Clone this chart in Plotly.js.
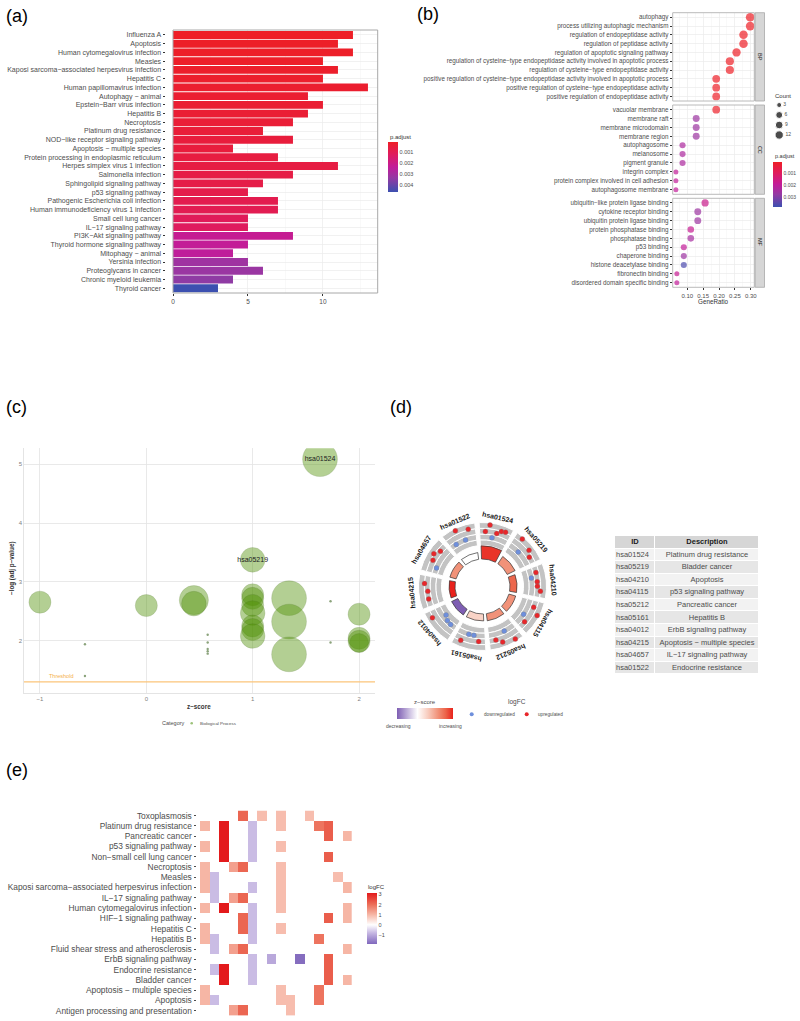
<!DOCTYPE html>
<html><head><meta charset="utf-8">
<script src="https://cdn.plot.ly/plotly-3.0.1.min.js"></script>
<style>html,body{margin:0;padding:0;background:#fff}#chart{width:800px;height:1021px}</style>
</head><body><div id="chart"></div>
<script>
const W = 800, H = 1021;
const FONT = 'Liberation Sans, Arial, Helvetica, sans-serif';

// ---------------- (a) KEGG enrichment bar chart ----------------
const keggTerms = ['Influenza A','Apoptosis','Human cytomegalovirus infection','Measles',
 'Kaposi sarcoma\u2212associated herpesvirus infection','Hepatitis C','Human papillomavirus infection',
 'Autophagy \u2212 animal','Epstein\u2212Barr virus infection','Hepatitis B','Necroptosis',
 'Platinum drug resistance','NOD\u2212like receptor signaling pathway','Apoptosis \u2212 multiple species',
 'Protein processing in endoplasmic reticulum','Herpes simplex virus 1 infection','Salmonella infection',
 'Sphingolipid signaling pathway','p53 signaling pathway','Pathogenic Escherichia coli infection',
 'Human immunodeficiency virus 1 infection','Small cell lung cancer','IL\u221217 signaling pathway',
 'PI3K\u2212Akt signaling pathway','Thyroid hormone signaling pathway','Mitophagy \u2212 animal',
 'Yersinia infection','Proteoglycans in cancer','Chronic myeloid leukemia','Thyroid cancer'];
const keggCounts = [12,11,12,10,11,10,13,9,10,9,8,6,8,4,7,11,8,6,5,7,7,5,5,8,5,4,5,6,4,3];
const keggPadj = [0.00008,0.0001,0.00012,0.00015,0.00018,0.0002,0.00025,0.0003,0.00033,0.00036,
 0.0004,0.00045,0.0005,0.00052,0.0006,0.00065,0.0007,0.00075,0.0008,0.0009,0.00095,0.0011,0.0012,
 0.0022,0.0023,0.0024,0.0031,0.0032,0.0034,0.0046];

// ---------------- (b) GO dot plot ----------------
const bpTerms = ['autophagy','process utilizing autophagic mechanism','regulation of endopeptidase activity',
 'regulation of peptidase activity','regulation of apoptotic signaling pathway',
 'regulation of cysteine\u2212type endopeptidase activity involved in apoptotic process',
 'regulation of cysteine\u2212type endopeptidase activity',
 'positive regulation of cysteine\u2212type endopeptidase activity involved in apoptotic process',
 'positive regulation of cysteine\u2212type endopeptidase activity','positive regulation of endopeptidase activity'];
const bpRatio = [0.298,0.298,0.277,0.277,0.255,0.234,0.234,0.191,0.191,0.191];
const bpCount = [14,14,13,13,12,11,11,9,9,9];
const bpPadj = [0.00004,0.00004,0.00004,0.00004,0.00005,0.00005,0.00005,0.00006,0.00006,0.00006];

const ccTerms = ['vacuolar membrane','membrane raft','membrane microdomain','membrane region','autophagosome',
 'melanosome','pigment granule','integrin complex','protein complex involved in cell adhesion','autophagosome membrane'];
const ccRatio = [0.191,0.128,0.128,0.128,0.085,0.085,0.085,0.064,0.064,0.064];
const ccCount = [9,6,6,6,4,4,4,3,3,3];
const ccPadj = [0.0001,0.0026,0.0026,0.0026,0.0023,0.0023,0.0023,0.0019,0.0019,0.0019];

const mfTerms = ['ubiquitin\u2212like protein ligase binding','cytokine receptor binding','ubiquitin protein ligase binding',
 'protein phosphatase binding','phosphatase binding','p53 binding','chaperone binding','histone deacetylase binding',
 'fibronectin binding','disordered domain specific binding'];
const mfRatio = [0.156,0.133,0.133,0.111,0.111,0.089,0.089,0.089,0.067,0.067];
const mfCount = [7,6,6,5,5,4,4,4,3,3];
const mfPadj = [0.0017,0.0026,0.0026,0.0018,0.0024,0.0019,0.0026,0.0036,0.0018,0.0019];
const countLegend = [3,6,9,12];

// ---------------- (c) GO bubble plot ----------------
const bubbleZ = [1.633,1.0,-1,0,0.447,0.447,1,1,1,1,1,1,1,1.342,1.342,1.342,2,2,2,2];
const bubbleLogP = [5.085,3.374,2.655,2.597,2.69,2.63,2.78,2.72,2.60,2.47,2.25,2.19,2.08,2.723,2.325,1.768,2.45,2.04,1.99,1.96];
const bubbleCount = [10,5,4,4,7,5,4,4,4,5,4,4,5,10,10,10,4,4,4,3];
const bubbleLabel = ['hsa01524','hsa05219','','','','','','','','','','','','','','','','','',''];
const smallZ = [-0.577,-0.577,0.577,0.577,0.577,0.577,0.577,1.732,1.732];
const smallLogP = [1.94,1.40,2.10,1.97,1.86,1.82,1.78,2.67,1.97];
const thresholdLogP = 1.301;

// ---------------- (d) GO circle + table ----------------
const circleIds = ['hsa01524','hsa05219','hsa04210','hsa04115','hsa05212','hsa05161','hsa04012','hsa04215','hsa04657','hsa01522'];
const circleDesc = ['Platinum drug resistance','Bladder cancer','Apoptosis','p53 signaling pathway','Pancreatic cancer',
 'Hepatitis B','ErbB signaling pathway','Apoptosis \u2212 multiple species','IL\u221217 signaling pathway','Endocrine resistance'];
const circleZ = [1.633,1.0,1.342,1.0,1.0,0.447,-1.0,1.732,1.0,0.0];
const circleLogP = [5.08,3.37,2.72,2.7,2.75,2.66,2.65,2.3,2.47,2.6];
const tableHeader = ['ID','Description'];

// ---------------- (e) GO heatmap ----------------
const heatTerms = ['Toxoplasmosis','Platinum drug resistance','Pancreatic cancer','p53 signaling pathway',
 'Non\u2212small cell lung cancer','Necroptosis','Measles','Kaposi sarcoma\u2212associated herpesvirus infection',
 'IL\u221217 signaling pathway','Human cytomegalovirus infection','HIF\u22121 signaling pathway','Hepatitis C','Hepatitis B',
 'Fluid shear stress and atherosclerosis','ErbB signaling pathway','Endocrine resistance','Bladder cancer',
 'Apoptosis \u2212 multiple species','Apoptosis','Antigen processing and presentation'];
const geneLogFC = [1.0,-0.75,3.1,1.3,2.1,-0.75,0.9,-1.0,0.9,0.9,-1.8,0.9,1.9,2.2,0.9,1.0];
const heatMembers = [[4,6,8,11],[0,2,5,8,12,13],[2,5,13,15],[0,2,5,8],[2,5,13],[0,3,4,8],[0,1,8,14],[0,1,5,8,15],
 [1,3,4,8],[0,2,5,8,15],[4,5,13,15],[0,4,5,8],[0,1,5,12],[1,3,4,15],[5,7,10,13],[1,2,5,13],[2,5,13,15],
 [0,8,12],[0,1,8,9,12],[3,4,9]];

// ================= helpers =================
const fx = x => x / W, fy = y => 1 - y / H;
function ann(text, x, y, size, color, extra) {
  return Object.assign({xref:'paper', yref:'paper', x:fx(x), y:fy(y), text:text, showarrow:false,
    xanchor:'center', yanchor:'middle', font:{family:FONT, size:size, color:color}}, extra || {});
}
const padjScale = [[0,'#3C50B0'],[0.28,'#943AA3'],[0.5,'#C21C99'],[0.75,'#DF1B5E'],[1,'#EE1F26']];
const neg = a => a.map(v => -v);
const sizeB = c => 5 + 3.7 * Math.sqrt((c - 3) / 11);
const sizeC = c => 11 * Math.sqrt(c);

const traces = [];
const shapes = [];
const annotations = [];

// ----- (a) -----
traces.push({type:'bar', orientation:'h', x:keggCounts, y:keggTerms, width:0.9, xaxis:'x', yaxis:'y',
  marker:{color:neg(keggPadj), colorscale:padjScale, cmin:-0.0046, cmax:-0.00006, line:{width:0},
    colorbar:{x:fx(387.7), xanchor:'left', y:fy(142), yanchor:'top', len:49.7, lenmode:'pixels',
      thickness:9.6, thicknessmode:'pixels', outlinewidth:0, xpad:0, ypad:0, tickmode:'array',
      tickvals:[-0.001,-0.002,-0.003,-0.004], ticktext:['0.001','0.002','0.003','0.004'], ticks:'',
      tickfont:{family:FONT,size:5.5,color:'#4D4D4D'}}},
  showlegend:false, hoverinfo:'skip'});
shapes.push({type:'rect', xref:'x domain', yref:'y domain', x0:0, x1:1, y0:0, y1:1, line:{color:'#A8A8A8', width:1}, layer:'above'});
annotations.push(ann('p.adjust', 387.7, 136.5, 6, '#333', {xanchor:'left'}));

// ----- (b) -----
const bSets = [[bpTerms,bpRatio,bpCount,bpPadj,'y2'],[ccTerms,ccRatio,ccCount,ccPadj,'y3'],[mfTerms,mfRatio,mfCount,mfPadj,'y4']];
bSets.forEach((s, i) => {
  traces.push({type:'scatter', mode:'markers', x:s[1], y:s[0], xaxis:'x2', yaxis:s[4],
    marker:{size:s[2].map(sizeB), color:neg(s[3]), colorscale:padjScale, cmin:-0.0038, cmax:-0.00003,
      line:{width:0}, showscale:i===0,
      colorbar:{x:fx(772.7), xanchor:'left', y:fy(161.7), yanchor:'top', len:45, lenmode:'pixels',
        thickness:9, thicknessmode:'pixels', outlinewidth:0, xpad:0, ypad:0, tickmode:'array',
        tickvals:[-0.001,-0.002,-0.003], ticktext:['0.001','0.002','0.003'], ticks:'',
        tickfont:{family:FONT,size:5,color:'#4D4D4D'}}},
    showlegend:false, hoverinfo:'skip'});
  const yd = s[4] + ' domain';
  shapes.push({type:'rect', xref:'x2 domain', yref:yd, x0:0, x1:1, y0:0, y1:1, line:{color:'#A8A8A8', width:0.8}, layer:'above'});
  shapes.push({type:'rect', xref:'paper', yref:yd, x0:fx(755.2), x1:fx(764.5), y0:0, y1:1, fillcolor:'#D6D6D6', line:{color:'#A8A8A8', width:0.8}});
});
annotations.push(ann('BP', 759.8, 56.9, 5.5, '#1A1A1A', {textangle:90}));
annotations.push(ann('CC', 759.8, 149.7, 5.5, '#1A1A1A', {textangle:90}));
annotations.push(ann('MF', 759.8, 242.8, 5.5, '#1A1A1A', {textangle:90}));
annotations.push(ann('GeneRatio', 713.3, 301.5, 6.3, '#333'));
annotations.push(ann('Count', 772.5, 96, 6, '#333', {xanchor:'left'}));
annotations.push(ann('p.adjust', 772.5, 155.5, 5.5, '#333', {xanchor:'left'}));
traces.push({type:'scatter', mode:'markers+text', x:countLegend.map(() => 0.2), y:countLegend, xaxis:'x7', yaxis:'y7',
  text:countLegend.map(String), textposition:'middle right', textfont:{family:FONT,size:5,color:'#4D4D4D'},
  marker:{size:countLegend.map(sizeB), color:'#000'}, showlegend:false, hoverinfo:'skip', cliponaxis:false});

// ----- (c) -----
traces.push({type:'scatter', mode:'markers', x:smallZ, y:smallLogP, xaxis:'x5', yaxis:'y5',
  marker:{size:2.4, color:'rgba(110,140,90,0.8)'}, showlegend:false, hoverinfo:'skip'});
traces.push({type:'scatter', mode:'markers+text', x:bubbleZ, y:bubbleLogP, xaxis:'x5', yaxis:'y5',
  text:bubbleLabel, textposition:'middle center', textfont:{family:FONT,size:7,color:'#222'},
  marker:{size:bubbleCount.map(sizeC), color:'rgba(77,143,0,0.6)', line:{color:'rgba(70,110,30,0.45)', width:0.6}},
  showlegend:false, hoverinfo:'skip'});
shapes.push({type:'line', xref:'x5 domain', x0:0, x1:1, yref:'y5', y0:thresholdLogP, y1:thresholdLogP, line:{color:'#FBC57A', width:1.2}});
annotations.push({xref:'x5', yref:'y5', x:-0.8, y:1.397, text:'Threshold', showarrow:false, font:{family:FONT,size:5.5,color:'#F5B04A'}});
annotations.push(ann('<b>\u2212log (adj p\u2212value)</b>', 12, 568, 6.3, '#333', {textangle:-90}));
annotations.push(ann('<b>z\u2212score</b>', 199.3, 706.5, 6.3, '#333'));
annotations.push(ann('Category', 173, 723.3, 5.5, '#4D4D4D'));
annotations.push(ann('Biological Process', 218.3, 723.3, 4.4, '#4D4D4D'));
shapes.push({type:'circle', xref:'paper', yref:'paper', xsizemode:'pixel', ysizemode:'pixel', xanchor:fx(191.7), yanchor:fy(723.3),
  x0:-1.3, x1:1.3, y0:-1.3, y1:1.3, fillcolor:'#9DC27A', line:{width:0}});

// ----- (d) circle -----
const cx = 482.5, cy = 586.5, R = 80;
const RING_BASE = 27.5, RING_SCALE = 2.6, SECT_IN = 41, SECT_OUT = 64;
const thetaC = circleIds.map((_, i) => 77 - 36 * i);
const stripes = 4, sw = (SECT_OUT - SECT_IN) / stripes;
const gTheta = [], gBase = [], gR = [];
thetaC.forEach(t => { for (let s = 0; s < stripes; s++) { gTheta.push(t); gBase.push(SECT_IN + s * sw); gR.push(sw); } });
traces.push({type:'barpolar', theta:gTheta, base:gBase, r:gR, width:32, subplot:'polar',
  marker:{color:'#C3C3C3', line:{color:'#FFFFFF', width:1}}, showlegend:false, hoverinfo:'skip'});
const zScale = [[0,'#7E5EB3'],[0.366,'#FFFFFF'],[0.55,'#F8CDBF'],[0.732,'#F19279'],[0.87,'#EC6349'],[1,'#E8221C']];
traces.push({type:'barpolar', theta:thetaC, base:RING_BASE, r:circleLogP.map(v => v * RING_SCALE), width:30, subplot:'polar',
  marker:{color:circleZ, colorscale:zScale, cmin:-1, cmax:1.732, line:{color:'#333', width:0.7},
    showscale:true, colorbar:{orientation:'h', x:fx(396.7), xanchor:'left', y:fy(708.3), yanchor:'top',
      len:56, lenmode:'pixels', thickness:11, thicknessmode:'pixels', outlinewidth:0, xpad:0, ypad:0,
      showticklabels:false, ticks:''}},
  showlegend:false, hoverinfo:'skip'});
const upT = [], upR = [], dnT = [], dnR = [];
circleDesc.forEach((d, k) => {
  const genes = heatMembers[heatTerms.indexOf(d)];
  const n = genes.length;
  genes.forEach((g, j) => {
    const th = thetaC[k] + 12 - (j + 0.5) * 24 / n;
    const r = 52 + 3.2 * geneLogFC[g];
    if (geneLogFC[g] > 0) { upT.push(th); upR.push(r); } else { dnT.push(th); dnR.push(r); }
  });
});
traces.push({type:'scatterpolar', mode:'markers', theta:upT, r:upR, subplot:'polar',
  marker:{size:5, color:'#E8262A', line:{color:'rgba(120,120,120,0.6)', width:0.5}}, showlegend:false, hoverinfo:'skip'});
traces.push({type:'scatterpolar', mode:'markers', theta:dnT, r:dnR, subplot:'polar',
  marker:{size:5, color:'#6E8FDC', line:{color:'rgba(120,120,120,0.6)', width:0.5}}, showlegend:false, hoverinfo:'skip'});
circleIds.forEach((id, k) => {
  const a = thetaC[k] * Math.PI / 180;
  let ta = 90 - thetaC[k]; while (ta > 180) ta -= 360; while (ta <= -180) ta += 360;
  annotations.push(ann('<b>' + id + '</b>', cx + 71 * Math.cos(a), cy - 71 * Math.sin(a), 7, '#1A1A1A', {textangle:ta}));
});
annotations.push(ann('z\u2212score', 425, 701.7, 6, '#4D4D4D'));
annotations.push(ann('decreasing', 398.3, 725.7, 5, '#4D4D4D'));
annotations.push(ann('increasing', 450.7, 725.7, 5, '#4D4D4D'));
annotations.push(ann('logFC', 516.7, 701.7, 6.5, '#4D4D4D'));
annotations.push(ann('downregulated', 499, 714.3, 4.7, '#4D4D4D'));
annotations.push(ann('upregulated', 550.7, 714.3, 4.7, '#4D4D4D'));
[[471.7,'#6E8FDC'],[526.7,'#E8262A']].forEach(p => shapes.push({type:'circle', xref:'paper', yref:'paper',
  xsizemode:'pixel', ysizemode:'pixel', xanchor:fx(p[0]), yanchor:fy(714.3), x0:-2, x1:2, y0:-2, y1:2,
  fillcolor:p[1], line:{width:0}}));

// ----- (d) table (cell backgrounds as a heatmap, text as text traces) -----
const tableRows = ['header'].concat(circleIds);
traces.push({type:'heatmap', x:[0,40,144], y:tableRows, xaxis:'x8', yaxis:'y8',
  z:tableRows.map((r, i) => i === 0 ? [2,2] : [(i - 1) % 2, (i - 1) % 2]),
  colorscale:[[0,'#F2F2F2'],[0.5,'#E6E6E6'],[1,'#D6D6D6']], zmin:0, zmax:2, showscale:false,
  xgap:1, ygap:1, hoverinfo:'skip'});
traces.push({type:'scatter', mode:'text', x:[20,92], y:['header','header'], xaxis:'x8', yaxis:'y8',
  text:tableHeader.map(t => '<b>' + t + '</b>'), textposition:'middle center',
  textfont:{family:FONT,size:7.5,color:'#1A1A1A'}, cliponaxis:false, showlegend:false, hoverinfo:'skip'});
traces.push({type:'scatter', mode:'text', x:circleIds.map(() => 1), y:circleIds, xaxis:'x8', yaxis:'y8',
  text:circleIds, textposition:'middle right', textfont:{family:FONT,size:7.5,color:'#4D4D4D'},
  cliponaxis:false, showlegend:false, hoverinfo:'skip'});
traces.push({type:'scatter', mode:'text', x:circleIds.map(() => 92), y:circleIds, xaxis:'x8', yaxis:'y8',
  text:circleDesc, textposition:'middle center', textfont:{family:FONT,size:7.5,color:'#4D4D4D'},
  cliponaxis:false, showlegend:false, hoverinfo:'skip'});

// ----- (e) heatmap -----
const heatZ = heatMembers.map(m => geneLogFC.map((v, g) => m.indexOf(g) >= 0 ? v : null));
const fcScale = [[0,'#8068BD'],[0.215,'#C6B7E2'],[0.376,'#FFFFFF'],[0.578,'#F6B6A5'],[0.779,'#EC6D57'],[1,'#E31A1C']];
traces.push({type:'heatmap', z:heatZ, x:geneLogFC.map((_, i) => i), y:heatTerms, xaxis:'x6', yaxis:'y6',
  colorscale:fcScale, zmin:-1.87, zmax:3.1, hoverinfo:'skip',
  colorbar:{x:fx(366.7), xanchor:'left', y:fy(893.3), yanchor:'top', len:50.7, lenmode:'pixels',
    thickness:10, thicknessmode:'pixels', outlinewidth:0, xpad:0, ypad:0, tickvals:[-1,0,1,2,3],
    ticktext:['\u22121','0','1','2','3'], ticks:'', tickfont:{family:FONT,size:5.5,color:'#4D4D4D'}}});
annotations.push(ann('logFC', 366, 886.7, 6, '#333', {xanchor:'left'}));

// ----- panel letters -----
[['(a)',4,16],['(b)',415,14],['(c)',4,407],['(d)',388,407],['(e)',4,770]].forEach(p =>
  annotations.push(ann(p[0], p[1], p[2], 18, '#000', {xanchor:'left'})));

const grid = '#EBEBEB';
const layout = {
  width:W, height:H, margin:{l:0,r:0,t:0,b:0}, paper_bgcolor:'#FFFFFF', plot_bgcolor:'rgba(0,0,0,0)',
  font:{family:FONT, color:'#4D4D4D'}, showlegend:false,
  xaxis:{domain:[fx(173), fx(377.7)], anchor:'y', range:[0,13.65], tickmode:'array', tickvals:[0,5,10],
    ticks:'outside', ticklen:2, tickcolor:'#333', tickfont:{size:6.5,color:'#4D4D4D'},
    showgrid:true, gridcolor:grid, gridwidth:0.7, minor:{tickmode:'array', tickvals:[2.5,7.5,12.5], showgrid:true, gridcolor:'#F4F4F4', gridwidth:0.5},
    zeroline:false, showline:false, fixedrange:true},
  yaxis:{domain:[fy(293), fy(30)], anchor:'free', position:fx(164.5), type:'category', categoryorder:'array',
    categoryarray:keggTerms, range:[29.55,-0.57], ticks:'outside', ticklen:2, tickcolor:'#333',
    tickfont:{size:7,color:'#4D4D4D'}, showgrid:true, gridcolor:grid, gridwidth:0.7, zeroline:false, showline:false},
  xaxis2:{domain:[fx(672.7), fx(754.3)], anchor:'y4', range:[0.054,0.311], tickmode:'array',
    tickvals:[0.10,0.15,0.20,0.25,0.30], ticktext:['0.10','0.15','0.20','0.25','0.30'], ticks:'outside', ticklen:2,
    tickcolor:'#333', tickfont:{size:6,color:'#4D4D4D'}, showgrid:true, gridcolor:grid, gridwidth:0.7,
    minor:{tickmode:'array', tickvals:[0.075,0.125,0.175,0.225,0.275], showgrid:true, gridcolor:'#F4F4F4', gridwidth:0.5},
    zeroline:false, showline:false},
  yaxis2:{domain:[fy(101), fy(12.7)], anchor:'x2', type:'category', categoryorder:'array', categoryarray:bpTerms,
    range:[9.52,-0.52], ticks:'outside', ticklen:2, tickcolor:'#333', tickfont:{size:6.3,color:'#4D4D4D'},
    showgrid:true, gridcolor:grid, gridwidth:0.7, zeroline:false},
  yaxis3:{domain:[fy(194.3), fy(105)], anchor:'x2', type:'category', categoryorder:'array', categoryarray:ccTerms,
    range:[9.52,-0.52], ticks:'outside', ticklen:2, tickcolor:'#333', tickfont:{size:6.3,color:'#4D4D4D'},
    showgrid:true, gridcolor:grid, gridwidth:0.7, zeroline:false},
  yaxis4:{domain:[fy(287.3), fy(198.3)], anchor:'x2', type:'category', categoryorder:'array', categoryarray:mfTerms,
    range:[9.52,-0.52], ticks:'outside', ticklen:2, tickcolor:'#333', tickfont:{size:6.3,color:'#4D4D4D'},
    showgrid:true, gridcolor:grid, gridwidth:0.7, zeroline:false},
  xaxis5:{domain:[fx(24), fx(375)], anchor:'y5', range:[-1.15,2.15], tickmode:'array', tickvals:[-1,0,1,2],
    ticktext:['\u22121','0','1','2'], ticks:'', tickfont:{size:6,color:'#7F7F7F'}, showgrid:true, gridcolor:'#E3E3E3',
    gridwidth:0.8, zeroline:false, showline:true, linecolor:'#DDDDDD', linewidth:0.8},
  yaxis5:{domain:[fy(692.7), fy(448.3)], anchor:'x5', range:[1.116,5.27], tickmode:'array', tickvals:[2,3,4,5],
    ticks:'', tickfont:{size:6,color:'#7F7F7F'}, showgrid:true, gridcolor:'#E3E3E3', gridwidth:0.8,
    zeroline:false, showline:true, linecolor:'#DDDDDD', linewidth:0.8},
  xaxis6:{domain:[fx(200), fx(351.7)], anchor:'y6', range:[-0.5,15.5], visible:false},
  yaxis6:{domain:[fy(1015.8), fy(810.5)], anchor:'free', position:fx(195.5), type:'category', categoryorder:'array',
    categoryarray:heatTerms, range:[19.5,-0.5], ticks:'outside', ticklen:2, tickcolor:'#4D4D4D',
    tickfont:{size:8.4,color:'#4D4D4D'}, showgrid:false, zeroline:false, showline:false},
  xaxis7:{domain:[fx(774), fx(800)], anchor:'y7', range:[0,1], visible:false},
  yaxis7:{domain:[fy(140), fy(100)], anchor:'x7', range:[13.5,1.5], visible:false},
  xaxis8:{domain:[fx(615), fx(759)], anchor:'y8', range:[0,144], visible:false},
  yaxis8:{domain:[fy(674.3), fy(536)], anchor:'x8', type:'category', categoryorder:'array', categoryarray:tableRows,
    range:[10.5,-0.5], visible:false},
  polar:{domain:{x:[fx(cx - R), fx(cx + R)], y:[fy(cy + R), fy(cy - R)]}, bgcolor:'rgba(0,0,0,0)', hole:0,
    radialaxis:{range:[0,R], visible:false}, angularaxis:{visible:false, direction:'counterclockwise', rotation:0}},
  shapes:shapes, annotations:annotations
};
Plotly.newPlot('chart', traces, layout, {staticPlot:true, displayModeBar:false});
</script></body></html>
